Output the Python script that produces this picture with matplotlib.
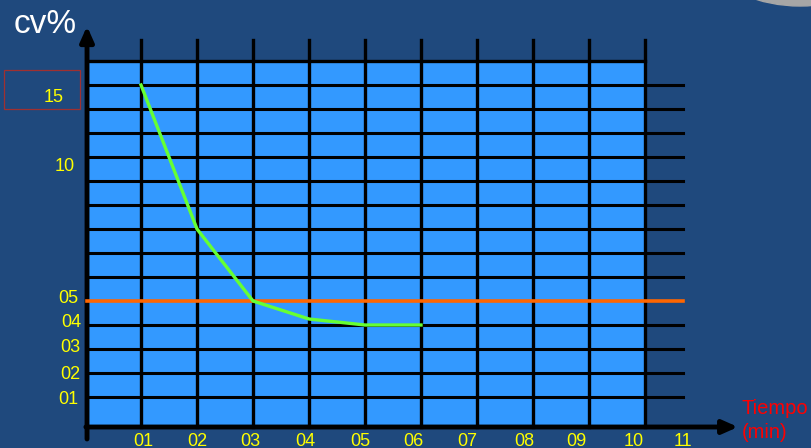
import matplotlib.pyplot as plt
from matplotlib.patches import Rectangle, Circle

# time axis (minutes) and the cv% curve, in grid rows (one row per horizontal line)
minutes = [1, 2, 3, 4, 5, 6]
cv_rows = [14, 8.0, 5, 4.25, 4, 4]
x_labels = ['01', '02', '03', '04', '05', '06', '07', '08', '09', '10', '11']
x_label_pos = [1.04, 2.0, 2.96, 3.93, 4.91, 5.87, 6.82, 7.84, 8.78, 9.79, 10.68]
y_labels = ['01', '02', '03', '04', '05', '10', '15']
y_label_rows = [0.9, 1.95, 3.05, 4.1, 5.1, 10.6, 13.5]
y_label_right = [-0.12, -0.09, -0.09, -0.07, -0.11, -0.18, -0.39]
limit_row = 5  # the 05 line

bg = '#1F497D'
cell = '#3399FF'
yellow = '#FFFF00'

W, H = 811, 448
fig = plt.figure(figsize=(W / 100, H / 100), dpi=100, facecolor=bg)
ax = fig.add_axes([0, 0, 1, 1])
ax.set_facecolor(bg)
ax.axis('off')

# px -> data: x px = 141 + 56*(x-1), y px = 397 - 24*(row-1)
ax.set_xlim(1 - 141 / 56, 1 + (W - 141) / 56)
ax.set_ylim(1 - (H - 397) / 24, 1 + 397 / 24)

x0, x_end, x_out = 0.036, 10, 10.68
y0, y_top = -0.25, 15

# blue cells
ax.add_patch(Rectangle((x0, y0), x_end - x0, y_top - y0, color=cell, zorder=1))

# horizontal grid lines
for r in range(1, 15):
    if r == limit_row:
        continue
    ax.plot([x0, x_out], [r, r], color='black', lw=2.2, zorder=2)
ax.plot([x0, x_end], [y_top, y_top], color='black', lw=2.4, zorder=2)

# vertical grid lines
for k in range(1, 11):
    ax.plot([k, k], [y0, 15.875], color='black', lw=2.4, zorder=2)

# axes with arrows
ax.annotate('', xy=(11.66, y0), xytext=(x0 - 0.02, y0),
            arrowprops=dict(arrowstyle='-|>,head_length=0.9,head_width=0.4',
                            color='black', lw=3.5, shrinkA=0, shrinkB=0), zorder=3)
ax.annotate('', xy=(x0, 16.45), xytext=(x0, -0.75),
            arrowprops=dict(arrowstyle='-|>,head_length=0.9,head_width=0.4',
                            color='black', lw=3.5, shrinkA=0, shrinkB=0), zorder=3)

# limit line and curve
ax.plot([x0, x_out], [limit_row, limit_row], color='#FF6600', lw=2.6, zorder=4)
ax.plot(minutes, cv_rows, color='#66FF33', lw=2.4, zorder=5)

font = 'Liberation Sans'
for lab, xp in zip(x_labels, x_label_pos):
    ax.text(xp, -0.85, lab, color=yellow, fontsize=13, family=font,
            ha='center', va='center')
for lab, r, xr in zip(y_labels, y_label_rows, y_label_right):
    ax.text(xr, r, lab, color=yellow, fontsize=13, family=font,
            ha='right', va='center')

# red box round the 15 label
fig.patches.append(Rectangle((4 / W, 1 - 109 / H), 76 / W, 39 / H, transform=fig.transFigure,
                             fill=False, edgecolor='#A03030', lw=0.9))

# gray decoration top right
fig.patches.append(Circle((800, H + 144), 150, transform=None, color='#A6A6A6'))

fig.text(14 / W, 1 - 33 / H, 'cv%', color='white', fontsize=24, family=font,
         ha='left', va='baseline')
fig.text(742 / W, 1 - 399 / H, 'Tiempo\n(min)', color='#FF0000', fontsize=14.5,
         family=font, ha='left', va='top', linespacing=1.3)

fig.savefig('out.png', dpi=100, facecolor=bg)
